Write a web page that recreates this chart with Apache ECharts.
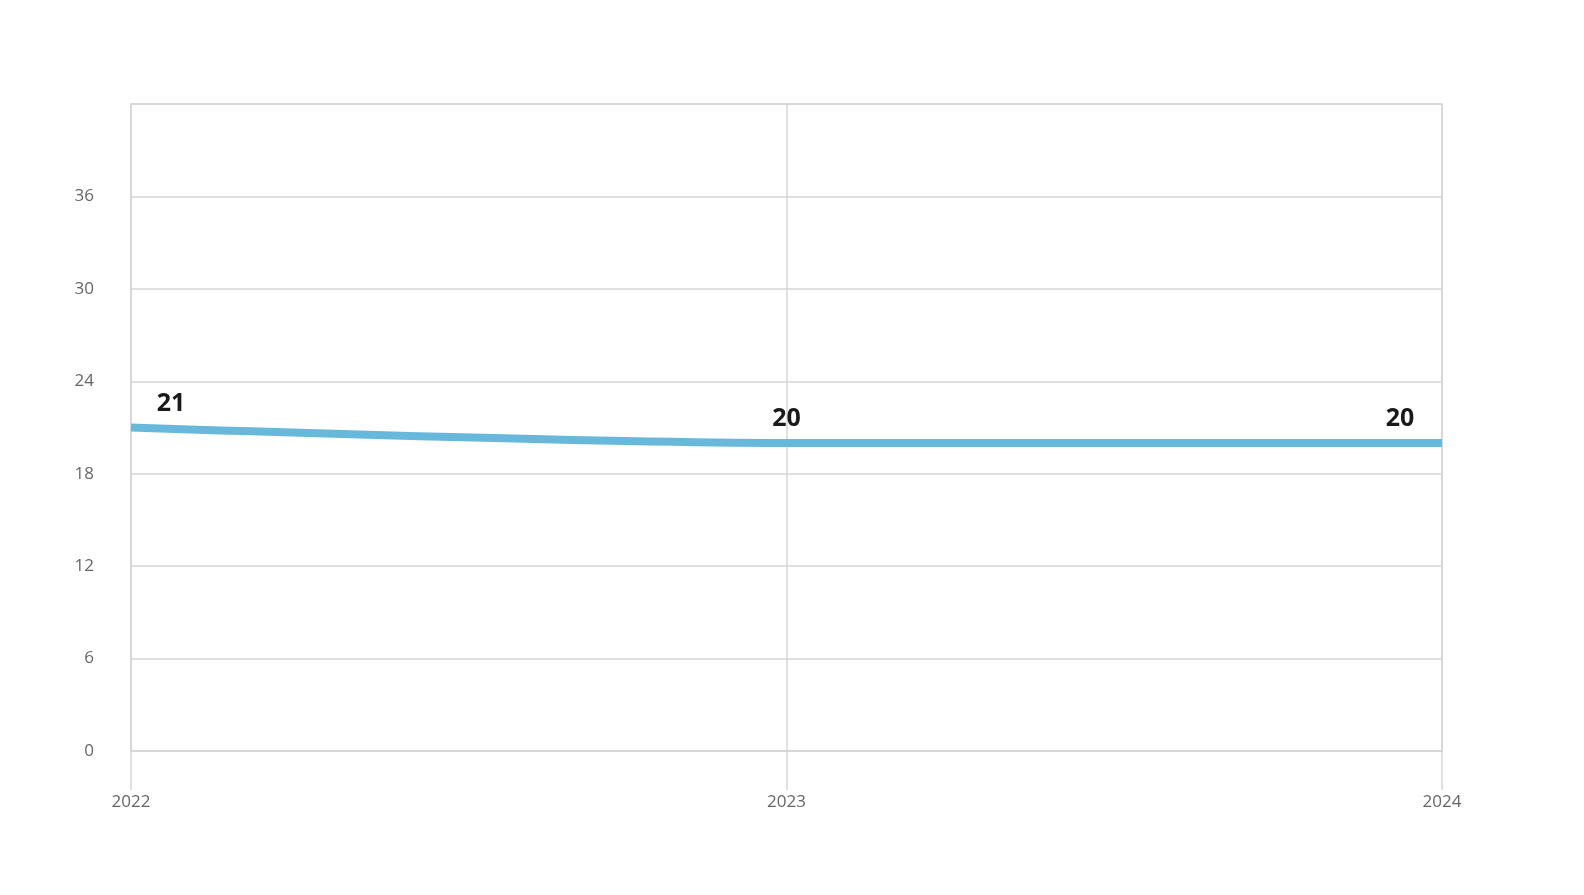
<!DOCTYPE html>
<html><head><meta charset="utf-8">
<script src="https://cdn.jsdelivr.net/npm/echarts@6/dist/echarts.min.js"></script>
<style>html,body{margin:0;padding:0;background:#fff}#c{width:1584px;height:895px}</style>
</head><body><div id="c"></div>
<script>
const categories = ['2022', '2023', '2024'];
const values = [21, 20, 20];
const labelOffsets = [[40, 0], [0, 0], [-42, 0]];

const chart = echarts.init(document.getElementById('c'));
chart.setOption({
  animation: false,
  grid: { left: 131, right: 142, top: 104, bottom: 144, show: true, borderColor: '#d6d6d6', borderWidth: 1.5 },
  xAxis: {
    type: 'category', data: categories, boundaryGap: false,
    axisLine: { show: true, lineStyle: { color: '#d6d6d6', width: 1.5 } },
    axisTick: { show: true, length: 39, lineStyle: { color: '#d6d6d6', width: 1.5 } },
    axisLabel: { color: '#666', fontSize: 17, fontFamily: 'Open Sans', margin: 43 },
    splitLine: { show: true, lineStyle: { color: '#d6d6d6', width: 1.5 } }
  },
  yAxis: {
    type: 'value', min: 0, max: 42, interval: 6,
    axisLine: { show: false }, axisTick: { show: false },
    axisLabel: { color: '#666', fontSize: 17, fontFamily: 'Open Sans', margin: 37, showMaxLabel: false, padding: [2, 0, 0, 0] },
    splitLine: { lineStyle: { color: '#d6d6d6', width: 1.5 } }
  },
  series: [{
    type: 'line', smooth: 0.3, showSymbol: true, symbol: 'circle', symbolSize: 1,
    itemStyle: { color: 'rgba(0,0,0,0)' },
    lineStyle: { color: '#68b8dc', width: 8 },
    data: values.map((v, i) => ({
      value: v,
      label: { show: true, position: 'top', distance: 11, offset: labelOffsets[i],
        color: '#1a1a1a', fontSize: 25, fontWeight: 'bold', fontFamily: 'Open Sans' }
    }))
  }]
});
</script></body></html>
